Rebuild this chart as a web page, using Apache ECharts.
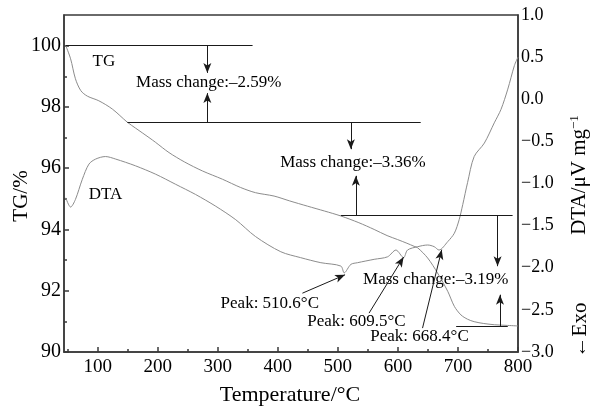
<!DOCTYPE html>
<html>
<head>
<meta charset="utf-8">
<script src="https://cdn.jsdelivr.net/npm/echarts@6/dist/echarts.min.js"></script>
<style>
html,body{margin:0;padding:0;background:#fff;}
#chart{width:592px;height:406px;}
</style>
</head>
<body>
<div id="chart"></div>
<script>
// ---- data ----
const tgTemperature = [47,55,63,72,83,102,124.5,149.5,163,185.5,196.7,218.8,245,274.5,307.8,338,363,393.8,420,449.5,478,505,535,560.5,582,599.5,615,627,633,649.5,666,683,694,705,716,727,743,760.5,780,800];
const tgValues      = [100,99.57,98.92,98.53,98.35,98.2,97.93,97.5,97.31,97.0,96.84,96.51,96.2,95.91,95.64,95.37,95.2,95.09,94.93,94.76,94.6,94.44,94.22,94.0,93.8,93.67,93.55,93.45,93.4,93.07,92.58,91.98,91.49,91.21,91.07,90.99,90.93,90.89,90.87,90.85];

const dtaTemperature = [47,55,63,74.5,85.5,96.7,113,130,163,196.7,230,263,296.7,330,363,405,438,471.7,505,510.6,521.7,532.8,560.5,582.8,596.7,609.5,616,633,649.5,660.5,668.4,683,694,702,708,716,727,744,760.5,771.7,783,794,800];
const dtaValues      = [-1.17,-1.28,-1.19,-0.95,-0.77,-0.71,-0.68,-0.71,-0.79,-0.89,-1.01,-1.13,-1.27,-1.43,-1.63,-1.81,-1.88,-1.94,-1.98,-2.06,-1.96,-1.94,-1.90,-1.87,-1.79,-1.88,-1.79,-1.75,-1.73,-1.75,-1.79,-1.69,-1.59,-1.43,-1.25,-0.99,-0.68,-0.52,-0.28,-0.12,0.12,0.40,0.50];

// x-axis ticks
const xMajorTicks = [100,200,300,400,500,600,700,800];
const xMinorTicks = [50,150,250,350,450,550,650,750];
// TG axis ticks
const tgMajorTicks = [90,92,94,96,98,100];
const tgMinorTicks = [91,93,95,97,99];

// mass-change reference levels (TG %) with their temperature spans
const levelValues = [100, 97.5, 94.46, 90.85];
const levelStart  = [47, 149.5, 505, 697];
const levelEnd    = [358, 638, 791, 783];

// arrows: from (T, TG) to (T, TG)
const arrowFromT  = [282.7, 282.7, 521.7, 530, 766, 770, 441, 552, 641];
const arrowFromTG = [100, 97.5, 97.5, 94.46, 94.46, 90.85, 91.92, 91.27, 90.78];
const arrowToT    = [282.7, 282.7, 521.7, 530, 766, 770, 512, 609.5, 673];
const arrowToTG   = [99.11, 98.45, 96.62, 95.75, 92.8, 91.87, 92.52, 93.10, 93.34];

// text annotations
const noteTexts = ['TG','DTA','Mass change:–2.59%','Mass change:–3.36%','Mass change:–3.19%','Peak: 510.6°C','Peak: 609.5°C','Peak: 668.4°C'];
const noteT     = [110.5, 113, 285, 525, 663, 386.7, 531, 636];
const noteTG    = [99.47, 95.15, 98.78, 96.18, 92.38, 91.57, 90.99, 90.5];

// ---- chart ----
const FONT = "'Liberation Serif','Times New Roman',serif";
const AXIS_COLOR = '#3a3a3a';
const CURVE_COLOR = '#8c8c8c';
const TEXT_COLOR = '#000';

const chart = echarts.init(document.getElementById('chart'), null, {renderer:'canvas'});

const levelLines = levelValues.map((v,i)=>[
  {coord:[levelStart[i], v], symbol:'none'},
  {coord:[levelEnd[i], v], symbol:'none'}
]);
const arrowLines = arrowFromT.map((t,i)=>[
  {coord:[t, arrowFromTG[i]], symbol:'none'},
  {coord:[arrowToT[i], arrowToTG[i]], symbol:'arrow', symbolSize:[6,10]}
]);

const option = {
  animation:false,
  backgroundColor:'#fff',
  grid:{left:64, right:74, top:15, bottom:54, show:true, borderColor:AXIS_COLOR, borderWidth:1.5, backgroundColor:'transparent'},
  xAxis:[
    {type:'value', min:44, max:800, position:'bottom',
     axisLine:{show:true, onZero:false, lineStyle:{color:AXIS_COLOR, width:1.5}},
     axisTick:{show:true, inside:true, length:5, customValues:xMajorTicks, lineStyle:{color:AXIS_COLOR, width:1.5}},
     axisLabel:{customValues:xMajorTicks, fontFamily:FONT, fontSize:19, color:TEXT_COLOR, margin:6},
     splitLine:{show:false}},
    {type:'value', min:44, max:800, position:'bottom',
     axisLine:{show:false, onZero:false},
     axisTick:{show:true, inside:true, length:3, customValues:xMinorTicks, lineStyle:{color:AXIS_COLOR, width:1.5}},
     axisLabel:{show:false}, splitLine:{show:false}}
  ],
  yAxis:[
    {type:'value', min:90, max:101, position:'left',
     axisLine:{show:true, onZero:false, lineStyle:{color:AXIS_COLOR, width:1.5}},
     axisTick:{show:true, inside:true, length:5, customValues:tgMajorTicks, lineStyle:{color:AXIS_COLOR, width:1.5}},
     axisLabel:{customValues:tgMajorTicks, fontFamily:FONT, fontSize:20, color:TEXT_COLOR, margin:3},
     splitLine:{show:false}},
    {type:'value', min:-3, max:1, interval:0.5, position:'right',
     axisLine:{show:true, onZero:false, lineStyle:{color:AXIS_COLOR, width:1.5}},
     axisTick:{show:false},
     axisLabel:{fontFamily:FONT, fontSize:18, color:TEXT_COLOR, margin:3,
       formatter:v=>v.toFixed(1).replace('-', '\u2212')},
     splitLine:{show:false}},
    {type:'value', min:90, max:101, position:'left',
     axisLine:{show:false, onZero:false},
     axisTick:{show:true, inside:true, length:3, customValues:tgMinorTicks, lineStyle:{color:AXIS_COLOR, width:1.5}},
     axisLabel:{show:false}, splitLine:{show:false}}
  ],
  series:[
    {name:'TG', type:'line', xAxisIndex:0, yAxisIndex:0, symbol:'none', smooth:0.3,
     data:tgTemperature.map((t,i)=>[t,tgValues[i]]),
     lineStyle:{color:CURVE_COLOR, width:1},
     markLine:{silent:true, symbol:['none','none'], animation:false,
       label:{show:false},
       lineStyle:{color:'#1a1a1a', width:1, type:'solid'},
       emphasis:{disabled:true},
       data:levelLines.concat(arrowLines)}},
    {name:'DTA', type:'line', xAxisIndex:0, yAxisIndex:1, symbol:'none', smooth:0.3,
     data:dtaTemperature.map((t,i)=>[t,dtaValues[i]]),
     lineStyle:{color:CURVE_COLOR, width:1}},
    {name:'notes', type:'scatter', xAxisIndex:0, yAxisIndex:0, symbolSize:0, silent:true,
     itemStyle:{color:'transparent'},
     data:noteTexts.map((s,i)=>({name:s, value:[noteT[i], noteTG[i]]})),
     label:{show:true, position:'inside', formatter:'{b}', fontFamily:FONT, fontSize:17, color:TEXT_COLOR, opacity:1}}
  ],
  graphic:[
    {type:'text', x:290, y:395, style:{text:'Temperature/°C', font:'22px '+FONT, fill:TEXT_COLOR, textAlign:'center', textVerticalAlign:'middle'}},
    {type:'text', x:21, y:196, rotation:Math.PI/2, style:{text:'TG/%', font:'21px '+FONT, fill:TEXT_COLOR, textAlign:'center', textVerticalAlign:'middle'}},
    {type:'text', x:579, y:175, rotation:Math.PI/2, style:{
      text:'{a|DTA/μV mg}{s|−1}', textAlign:'center', textVerticalAlign:'middle',
      rich:{a:{font:'21px '+FONT, fill:TEXT_COLOR}, s:{font:'13px '+FONT, fill:TEXT_COLOR, verticalAlign:'top', padding:[0,0,8,0]}}}},
    {type:'text', x:580, y:330, rotation:Math.PI/2, style:{text:'←Exo', font:'21px '+FONT, fill:TEXT_COLOR, textAlign:'center', textVerticalAlign:'middle'}}
  ]
};
chart.setOption(option);
</script>
</body>
</html>
